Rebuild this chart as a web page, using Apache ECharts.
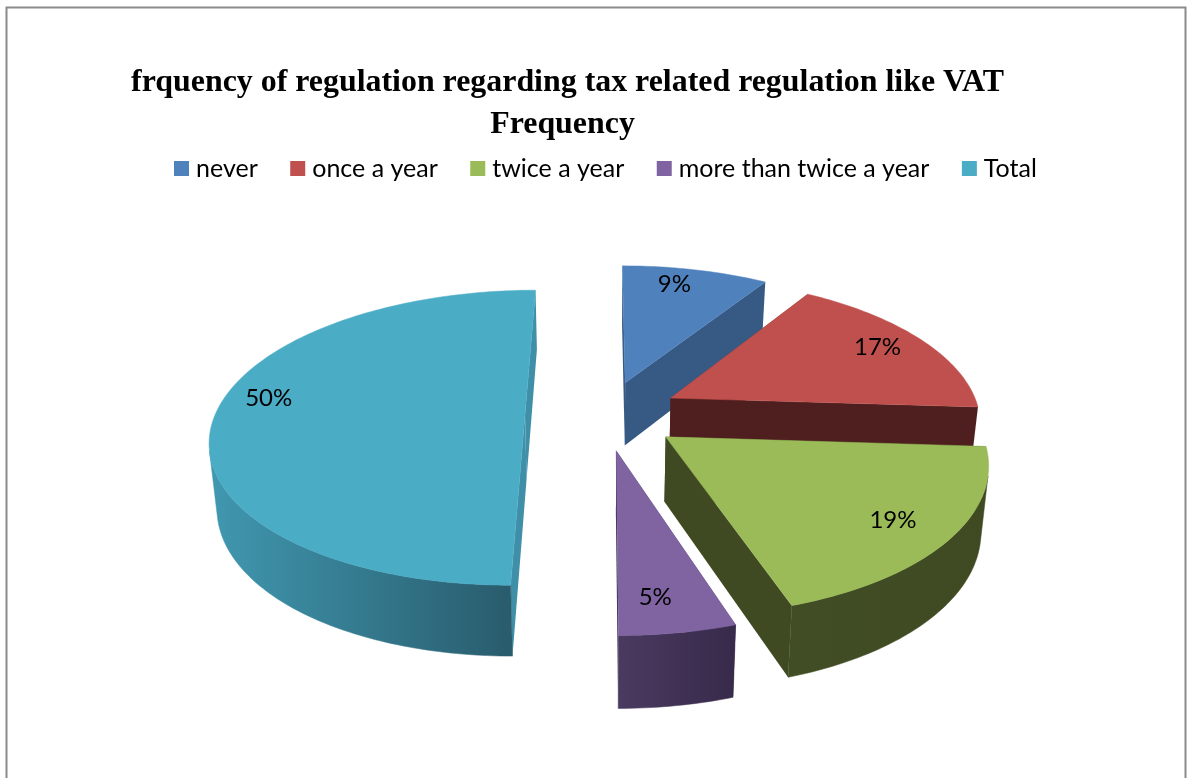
<!DOCTYPE html>
<html>
<head>
<meta charset="utf-8">
<style>html,body{margin:0;padding:0;background:#fff}#chart{width:1191px;height:778px}</style>
<script src="https://cdn.jsdelivr.net/npm/echarts@6/dist/echarts.min.js"></script>
</head>
<body>
<div id="chart"></div>
<script>
// Survey shares, one slice per answer, in clockwise order from twelve o'clock.
const categories = ['never', 'once a year', 'twice a year', 'more than twice a year', 'Total'];
const shares = [9, 17, 19, 5, 50];
const titleLines = ['frquency of regulation regarding tax related regulation like VAT', 'Frequency'];

// Slice styling: top face, flat cut faces, and the rim gradient from left to right.
const topColors = ['#4f81bd', '#c0504d', '#9bbb59', '#8064a2', '#4bacc6'];
const cutColors = ['#365a84', '#4e1f1e', '#3f4a22', '#3a2c4e', '#3f8fa8'];
const rimColors = [['#365a84', '#365a84'], ['#4e1f1e', '#4e1f1e'], ['#414d24', '#3f4a22'], ['#4a3a60', '#372a4a'], ['#4098b0', '#295c6d']];
const paintOrder = [1, 2, 3, 5, 4];        // back slices first
const labelTurn = [-3, -1, 0.5, 2, 8];     // degrees off each slice's middle
const labelReach = [0.845, 0.83, 0.82, 0.825, 0.855];
const sliceShift = [[1, 0], [1, -3], [1, 0], [0, 0], [-4, 0]]; // extra pull on top of the explosion

// Perspective of the pie plane: vanishing point, centre line, radius, explosion.
const scene = { vx: 604, vy: -520, span: 935, k: 0.154, R: 310, burst: 75 };
const RIM_STEP = 1;

const total = shares.reduce((a, b) => a + b, 0);
const rad = d => d * Math.PI / 180;

function project(X, Y, lower) {
  const s = 1 / (1 - scene.k * Y / scene.R);
  let x = scene.vx + X * s;
  let y = scene.vy + scene.span * s;
  if (lower) {
    y += 26 + 38 * s;
    x = scene.vx + (x - scene.vx) * 0.98;
  }
  return [x, y];
}

// Signed area of a rim quad; the sign tells whether that stretch faces the viewer.
function quadArea(q) {
  let sum = 0;
  for (let i = 0; i < q.length; i++) {
    const a = q[i], b = q[(i + 1) % q.length];
    sum += a[0] * b[1] - b[0] * a[1];
  }
  return sum / 2;
}

function sliceShapes(index) {
  let from = 0;
  for (let i = 0; i < index; i++) from += shares[i] / total * 360;
  const to = from + shares[index] / total * 360;
  const mid = (from + to) / 2;
  const ox = Math.sin(rad(mid)) * scene.burst + sliceShift[index][0];
  const oy = -Math.cos(rad(mid)) * scene.burst + sliceShift[index][1];
  const onRim = (a, lower) => project(ox + Math.sin(rad(a)) * scene.R, oy - Math.cos(rad(a)) * scene.R, lower);
  const apex = lower => project(ox, oy, lower);

  const topFace = [apex(false)];
  const steps = Math.ceil(to - from);
  for (let i = 0; i <= steps; i++) topFace.push(onRim(from + (to - from) * i / steps, false));

  const children = [];
  const poly = (points, fill, lineWidth) => children.push({
    type: 'polygon', shape: { points }, style: { fill, stroke: fill, lineWidth }
  });

  poly([apex(false), onRim(from, false), onRim(from, true), apex(true)], cutColors[index], 0);
  poly([apex(false), onRim(to, false), onRim(to, true), apex(true)], cutColors[index], 0);

  // Keep only the stretch of rim that faces the viewer, as one unfolded outline.
  const n = Math.ceil((to - from) / RIM_STEP);
  const at = i => from + (to - from) * i / n;
  const upper = [], lowerEdge = [];
  for (let i = 0; i < n; i++) {
    const a0 = at(i), a1 = at(i + 1);
    const q = [onRim(a0, false), onRim(a1, false), onRim(a1, true), onRim(a0, true)];
    if (quadArea(q) < 0) {
      if (!upper.length) { upper.push(q[0]); lowerEdge.push(q[3]); }
      upper.push(q[1]);
      lowerEdge.unshift(q[2]);
    }
  }
  if (upper.length) {
    const xs = upper.map(p => p[0]);
    const fill = new echarts.graphic.LinearGradient(
      Math.min.apply(null, xs), 0, Math.max.apply(null, xs), 0,
      [{ offset: 0, color: rimColors[index][0] }, { offset: 1, color: rimColors[index][1] }], true);
    poly(upper.concat(lowerEdge), fill, 0.5);
  }

  poly(topFace, topColors[index], 0.5);

  const la = mid + labelTurn[index];
  const lp = project(ox + Math.sin(rad(la)) * scene.R * labelReach[index],
                     oy - Math.cos(rad(la)) * scene.R * labelReach[index], false);
  children.push({
    type: 'text',
    style: {
      text: Math.round(shares[index] / total * 100) + '%',
      x: lp[0], y: lp[1], align: 'center', verticalAlign: 'middle',
      fill: '#000', font: '24px Lato'
    }
  });
  return { type: 'group', children };
}

const series = categories.map((name, i) => ({
  type: 'custom',
  name,
  coordinateSystem: 'none',
  z: paintOrder[i],
  itemStyle: { color: topColors[i] },
  data: [[shares[i]]],
  renderItem: () => sliceShapes(i),
  silent: true
}));

const chart = echarts.init(document.getElementById('chart'), null, { renderer: 'canvas' });
chart.setOption({
  animation: false,
  backgroundColor: '#fff',
  title: [
    { text: titleLines[0], left: 562.5, top: 62, textAlign: 'center',
      textStyle: { fontFamily: 'Liberation Serif', fontWeight: 'bold', fontSize: 31.9, color: '#000' } },
    { text: titleLines[1], left: 557.5, top: 104, textAlign: 'center',
      textStyle: { fontFamily: 'Liberation Serif', fontWeight: 'bold', fontSize: 31.9, color: '#000' } }
  ],
  legend: {
    data: categories,
    left: 169,
    top: 151,
    icon: 'rect',
    itemWidth: 15,
    itemHeight: 15,
    itemGap: 32.5,
    selectedMode: false,
    textStyle: { fontFamily: 'Lato', fontSize: 25, color: '#000', padding: [0, 0, 0, 2] }
  },
  graphic: [{
    type: 'rect', silent: true, z: -1,
    shape: { x: 6.5, y: 7.5, width: 1179, height: 800 },
    style: { fill: 'none', stroke: '#8a8a8a', lineWidth: 2 }
  }],
  series
});
</script>
</body>
</html>
